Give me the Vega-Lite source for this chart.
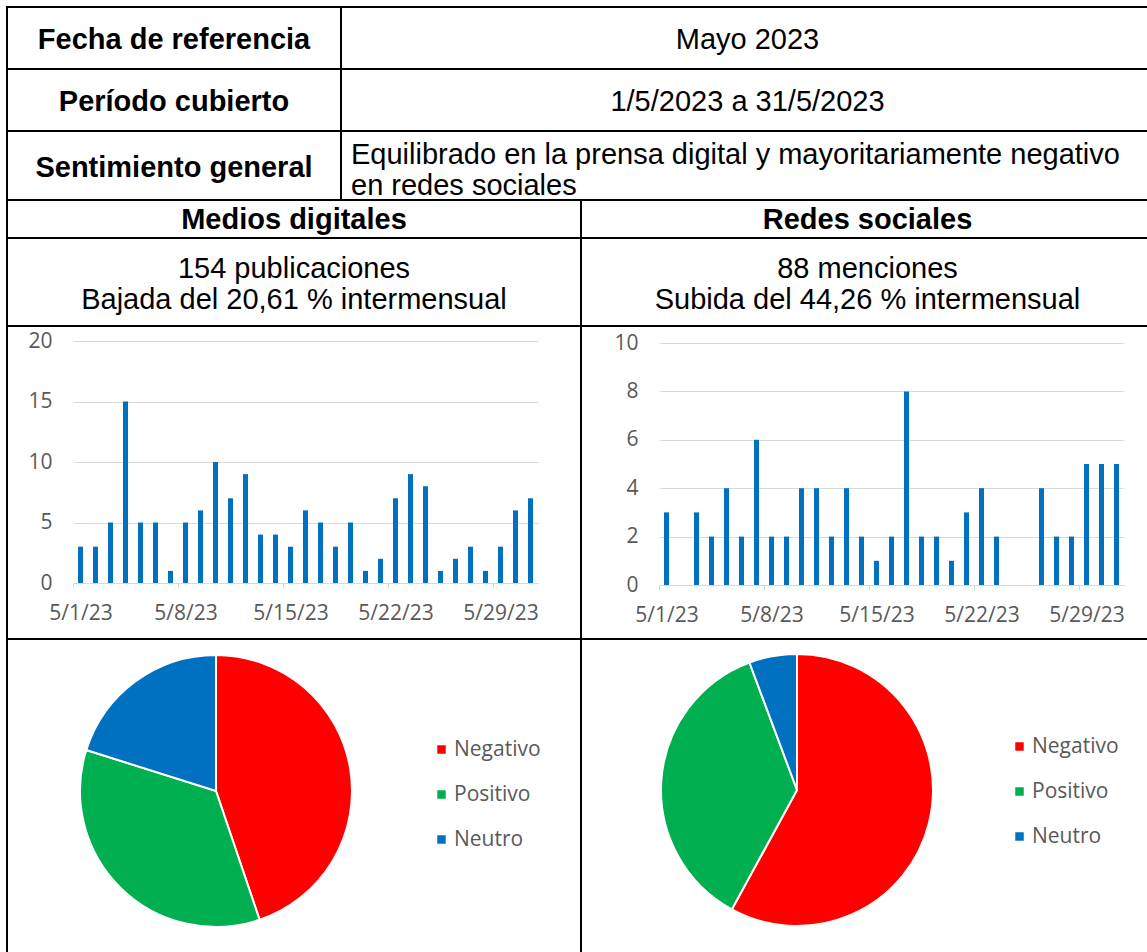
{
"$schema": "https://vega.github.io/schema/vega-lite/v6.json",
"background": "white",
"padding": {"left": 6, "top": 6, "right": 0, "bottom": 0},
"spacing": 0,
"bounds": "flush",
"config": {
  "view": {"stroke": "black", "strokeWidth": 2},
  "text": {"font": "Liberation Sans", "fontSize": 29, "color": "black"},
  "axis": {"labelFont": "Open Sans", "labelFontSize": 21, "labelColor": "#595959", "title": null, "domainColor": "#d9d9d9", "tickColor": "#d9d9d9", "gridColor": "#d9d9d9"},
  "legend": {"symbolType": "square", "symbolSize": 72, "labelFont": "Open Sans", "labelFontSize": 21, "labelColor": "#595959", "rowPadding": 23, "labelOffset": 2, "symbolStrokeWidth": 0}
},
"vconcat": [
 {"columns": 2, "align": "none", "bounds": "flush", "spacing": 0,
  "concat": [
  {"width": 334, "height": 62, "view": {"style": "cell"}, "data": {"values": [{"t": "Fecha de referencia"}]}, "mark": {"type": "text", "fontWeight": "bold", "dy": 2}, "encoding": {"text": {"field": "t"}}},
  {"width": 813, "height": 62, "view": {"style": "cell"}, "data": {"values": [{"t": "Mayo 2023"}]}, "mark": {"type": "text", "dy": 2}, "encoding": {"text": {"field": "t"}}},
  {"width": 334, "height": 62, "view": {"style": "cell"}, "data": {"values": [{"t": "Período cubierto"}]}, "mark": {"type": "text", "fontWeight": "bold", "dy": 2}, "encoding": {"text": {"field": "t"}}},
  {"width": 813, "height": 62, "view": {"style": "cell"}, "data": {"values": [{"t": "1/5/2023 a 31/5/2023"}]}, "mark": {"type": "text", "dy": 2}, "encoding": {"text": {"field": "t"}}},
  {"width": 334, "height": 69, "view": {"style": "cell"}, "data": {"values": [{"t": "Sentimiento general"}]}, "mark": {"type": "text", "fontWeight": "bold", "dy": 2}, "encoding": {"text": {"field": "t"}}},
  {"width": 813, "height": 69, "view": {"style": "cell"}, "data": {"values": [{"t": ["Equilibrado en la prensa digital y mayoritariamente negativo", "en redes sociales"]}]}, "mark": {"type": "text", "align": "left", "x": 10, "lineHeight": 31, "dy": -11}, "encoding": {"text": {"field": "t"}}}
  ]},
 {"width": 1, "height": 193, "view": {"stroke": null}, "data": {"values": []}, "mark": {"type": "point", "opacity": 0}},
 {"columns": 2, "align": "none", "bounds": "flush", "spacing": 0,
  "resolve": {"scale": {"color": "independent"}, "legend": {"color": "independent"}},
  "concat": [
  {"width": 574, "height": 38, "view": {"style": "cell"}, "data": {"values": [{"t": "Medios digitales"}]}, "mark": {"type": "text", "fontWeight": "bold", "dy": 1}, "encoding": {"text": {"field": "t"}}},
  {"width": 573, "height": 38, "view": {"style": "cell"}, "data": {"values": [{"t": "Redes sociales"}]}, "mark": {"type": "text", "fontWeight": "bold", "dy": 1}, "encoding": {"text": {"field": "t"}}},
  {"width": 574, "height": 88, "view": {"style": "cell"}, "data": {"values": [{"t": ["154 publicaciones", "Bajada del 20,61 % intermensual"]}]}, "mark": {"type": "text", "lineHeight": 31, "dy": -13}, "encoding": {"text": {"field": "t"}}},
  {"width": 573, "height": 88, "view": {"style": "cell"}, "data": {"values": [{"t": ["88 menciones", "Subida del 44,26 % intermensual"]}]}, "mark": {"type": "text", "lineHeight": 31, "dy": -13}, "encoding": {"text": {"field": "t"}}},
  {"width": 574, "height": 313,
   "data": {"values": [
    {"fecha": "2023-05-01", "n": 3}, {"fecha": "2023-05-02", "n": 3}, {"fecha": "2023-05-03", "n": 5}, {"fecha": "2023-05-04", "n": 15},
    {"fecha": "2023-05-05", "n": 5}, {"fecha": "2023-05-06", "n": 5}, {"fecha": "2023-05-07", "n": 1}, {"fecha": "2023-05-08", "n": 5},
    {"fecha": "2023-05-09", "n": 6}, {"fecha": "2023-05-10", "n": 10}, {"fecha": "2023-05-11", "n": 7}, {"fecha": "2023-05-12", "n": 9},
    {"fecha": "2023-05-13", "n": 4}, {"fecha": "2023-05-14", "n": 4}, {"fecha": "2023-05-15", "n": 3}, {"fecha": "2023-05-16", "n": 6},
    {"fecha": "2023-05-17", "n": 5}, {"fecha": "2023-05-18", "n": 3}, {"fecha": "2023-05-19", "n": 5}, {"fecha": "2023-05-20", "n": 1},
    {"fecha": "2023-05-21", "n": 2}, {"fecha": "2023-05-22", "n": 7}, {"fecha": "2023-05-23", "n": 9}, {"fecha": "2023-05-24", "n": 8},
    {"fecha": "2023-05-25", "n": 1}, {"fecha": "2023-05-26", "n": 2}, {"fecha": "2023-05-27", "n": 3}, {"fecha": "2023-05-28", "n": 1},
    {"fecha": "2023-05-29", "n": 3}, {"fecha": "2023-05-30", "n": 6}, {"fecha": "2023-05-31", "n": 7}
   ]},
   "mark": {"type": "bar", "width": 5, "color": "#0070C0"},
   "encoding": {
    "x": {"field": "fecha", "type": "temporal", "timeUnit": "utcyearmonthdate", "bandPosition": 0.5,
          "scale": {"type": "utc", "range": [66, 531], "domain": [{"year": 2023, "month": 5, "date": 1, "utc": true}, {"year": 2023, "month": 6, "date": 1, "utc": true}]},
          "axis": {"values": [{"year": 2023, "month": 5, "date": 1, "utc": true}, {"year": 2023, "month": 5, "date": 8, "utc": true}, {"year": 2023, "month": 5, "date": 15, "utc": true}, {"year": 2023, "month": 5, "date": 22, "utc": true}, {"year": 2023, "month": 5, "date": 29, "utc": true}],
                   "offset": -56, "labelExpr": "utcFormat(datum.value, '%-m/%-d/%y')", "grid": false, "tickSize": 5, "labelOffset": 7.5, "labelPadding": 14, "labelFlush": false, "labelOverlap": false}},
    "y": {"field": "n", "type": "quantitative", "scale": {"domain": [0, 20], "range": [257, 15]},
          "axis": {"values": [0, 5, 10, 15, 20], "offset": -66, "domain": false, "ticks": false, "labelPadding": 21}}
   }},
  {"width": 573, "height": 313,
   "data": {"values": [
    {"fecha": "2023-05-01", "n": 3}, {"fecha": "2023-05-02", "n": 0}, {"fecha": "2023-05-03", "n": 3}, {"fecha": "2023-05-04", "n": 2},
    {"fecha": "2023-05-05", "n": 4}, {"fecha": "2023-05-06", "n": 2}, {"fecha": "2023-05-07", "n": 6}, {"fecha": "2023-05-08", "n": 2},
    {"fecha": "2023-05-09", "n": 2}, {"fecha": "2023-05-10", "n": 4}, {"fecha": "2023-05-11", "n": 4}, {"fecha": "2023-05-12", "n": 2},
    {"fecha": "2023-05-13", "n": 4}, {"fecha": "2023-05-14", "n": 2}, {"fecha": "2023-05-15", "n": 1}, {"fecha": "2023-05-16", "n": 2},
    {"fecha": "2023-05-17", "n": 8}, {"fecha": "2023-05-18", "n": 2}, {"fecha": "2023-05-19", "n": 2}, {"fecha": "2023-05-20", "n": 1},
    {"fecha": "2023-05-21", "n": 3}, {"fecha": "2023-05-22", "n": 4}, {"fecha": "2023-05-23", "n": 2}, {"fecha": "2023-05-24", "n": 0},
    {"fecha": "2023-05-25", "n": 0}, {"fecha": "2023-05-26", "n": 4}, {"fecha": "2023-05-27", "n": 2}, {"fecha": "2023-05-28", "n": 2},
    {"fecha": "2023-05-29", "n": 5}, {"fecha": "2023-05-30", "n": 5}, {"fecha": "2023-05-31", "n": 5}
   ]},
   "mark": {"type": "bar", "width": 5, "color": "#0070C0"},
   "encoding": {
    "x": {"field": "fecha", "type": "temporal", "timeUnit": "utcyearmonthdate", "bandPosition": 0.5,
          "scale": {"type": "utc", "range": [78, 543], "domain": [{"year": 2023, "month": 5, "date": 1, "utc": true}, {"year": 2023, "month": 6, "date": 1, "utc": true}]},
          "axis": {"values": [{"year": 2023, "month": 5, "date": 1, "utc": true}, {"year": 2023, "month": 5, "date": 8, "utc": true}, {"year": 2023, "month": 5, "date": 15, "utc": true}, {"year": 2023, "month": 5, "date": 22, "utc": true}, {"year": 2023, "month": 5, "date": 29, "utc": true}],
                   "offset": -54, "labelExpr": "utcFormat(datum.value, '%-m/%-d/%y')", "grid": false, "tickSize": 5, "labelOffset": 7.5, "labelPadding": 14, "labelFlush": false, "labelOverlap": false}},
    "y": {"field": "n", "type": "quantitative", "scale": {"domain": [0, 10], "range": [259, 17]},
          "axis": {"values": [0, 2, 4, 6, 8, 10], "offset": -78, "domain": false, "ticks": false, "labelPadding": 21}}
   }},
  {"width": 574, "height": 316, "view": {"style": "cell"},
   "data": {"values": [{"s": "Negativo", "n": 69, "ord": 1}, {"s": "Positivo", "n": 54, "ord": 2}, {"s": "Neutro", "n": 31, "ord": 3}]},
   "mark": {"type": "arc", "stroke": "white", "strokeWidth": 2, "radius": 136, "x": 209, "y": 152},
   "encoding": {
    "theta": {"field": "n", "type": "quantitative", "stack": true},
    "order": {"field": "ord", "type": "quantitative"},
    "color": {"field": "s", "type": "nominal", "scale": {"domain": ["Negativo", "Positivo", "Neutro"], "range": ["#FF0000", "#00B050", "#0070C0"]},
              "legend": {"orient": "none", "legendX": 424, "legendY": 100, "title": null}}
   }},
  {"width": 573, "height": 316, "view": {"style": "cell"},
   "data": {"values": [{"s": "Negativo", "n": 51, "ord": 1}, {"s": "Positivo", "n": 32, "ord": 2}, {"s": "Neutro", "n": 5, "ord": 3}]},
   "mark": {"type": "arc", "stroke": "white", "strokeWidth": 2, "radius": 136, "x": 216, "y": 151},
   "encoding": {
    "theta": {"field": "n", "type": "quantitative", "stack": true},
    "order": {"field": "ord", "type": "quantitative"},
    "color": {"field": "s", "type": "nominal", "scale": {"domain": ["Negativo", "Positivo", "Neutro"], "range": ["#FF0000", "#00B050", "#0070C0"]},
              "legend": {"orient": "none", "legendX": 428, "legendY": 97, "title": null}}
   }}
  ]}
]
}
